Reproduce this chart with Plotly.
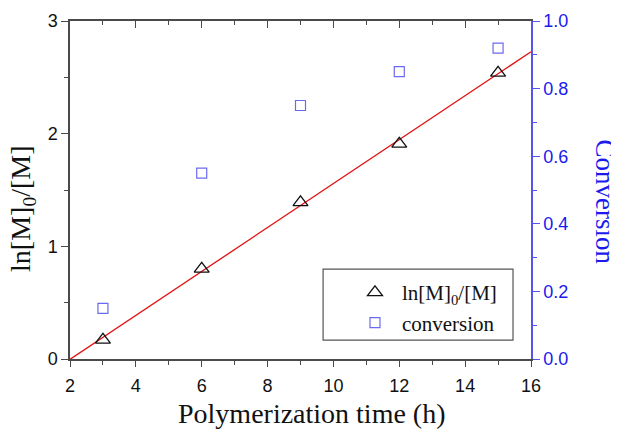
import numpy as np
import plotly.graph_objects as go

time_h = [3, 6, 9, 12, 15]
ln_ratio = [0.17, 0.80, 1.39, 1.91, 2.54]
conversion = [0.15, 0.55, 0.75, 0.85, 0.92]
fit_x = [2, 16]

slope, intercept = np.polyfit(time_h, ln_ratio, 1)
fit_y = [slope * v + intercept for v in fit_x]

AXC = "#4a4a4a"
BLUE = "#1a1aee"
RAXC = "#5555ee"
SERIF = "Liberation Serif, Times New Roman, serif"
SANS = "Liberation Sans, Arial, sans-serif"

fig = go.Figure()
fig.add_trace(go.Scatter(x=fit_x, y=fit_y, mode="lines",
                         line=dict(color="#e41010", width=1.3),
                         showlegend=False, hoverinfo="skip"))
fig.add_trace(go.Scatter(x=time_h, y=ln_ratio, mode="markers",
                         name="ln[M]<sub>0</sub>/[M]",
                         marker=dict(symbol="triangle-up-open", size=13,
                                     color="#111111", line=dict(width=1.3))))
fig.add_trace(go.Scatter(x=time_h, y=conversion, mode="markers",
                         name="conversion", yaxis="y2",
                         marker=dict(symbol="square-open", size=10,
                                     color="#6a6af0", line=dict(width=1.2))))
# empty trace to carry the mirrored top axis
fig.add_trace(go.Scatter(x=[], y=[], xaxis="x2", showlegend=False))

# page body has an 8px margin: shrink figure so plot area lands on reference pixels
fig.update_layout(
    width=611, height=425,
    margin=dict(l=62, r=88, t=13, b=74),
    paper_bgcolor="white", plot_bgcolor="white",
    xaxis=dict(range=[2, 16], dtick=2, tick0=2, showgrid=False, zeroline=False,
               automargin=False,
               showline=True, linecolor=AXC, linewidth=1.5,
               ticks="outside", ticklen=6, tickwidth=1.2, tickcolor=AXC,
               ticklabelstandoff=4,
               minor=dict(dtick=1, ticks="outside", ticklen=4, tickcolor=AXC, tickwidth=1.2),
               tickfont=dict(family=SANS, size=18, color="#111")),
    xaxis2=dict(range=[2, 16], dtick=2, tick0=2, overlaying="x", side="top", anchor="y",
                automargin=False,
                showgrid=False, zeroline=False, showticklabels=False,
                showline=True, linecolor=AXC, linewidth=1.5,
                ticks="inside", ticklen=7, tickwidth=1.2, tickcolor=AXC,
                minor=dict(dtick=1, ticks="inside", ticklen=4, tickcolor=AXC, tickwidth=1.2)),
    yaxis=dict(range=[0, 3], dtick=1, showgrid=False, zeroline=False,
               automargin=False,
               showline=True, linecolor=AXC, linewidth=1.5,
               ticks="outside", ticklen=7, tickwidth=1.2, tickcolor=AXC,
               minor=dict(dtick=0.5, ticks="outside", ticklen=4, tickcolor=AXC, tickwidth=1.2),
               tickfont=dict(family=SANS, size=18, color="#111")),
    yaxis2=dict(range=[0, 1], dtick=0.2, tickformat=".1f", overlaying="y", side="right",
                automargin=False,
                showgrid=False, zeroline=False,
                showline=True, linecolor=RAXC, linewidth=1.5,
                ticks="outside", ticklen=7, tickwidth=1.2, tickcolor=RAXC,
                minor=dict(dtick=0.1, ticks="outside", ticklen=4, tickcolor=RAXC, tickwidth=1.2),
                tickfont=dict(family=SANS, size=18, color=BLUE)),
    legend=dict(x=0.603, y=0.257, xanchor="left", yanchor="top",
                borderwidth=0, bgcolor="rgba(0,0,0,0)", itemwidth=44,
                font=dict(family=SERIF, size=21, color="#111"),
                tracegroupgap=0),
    shapes=[dict(type="rect", xref="paper", yref="paper",
                 x0=0.549, x1=0.961, y0=0.056, y1=0.266,
                 line=dict(color="#555", width=1.2), fillcolor="rgba(0,0,0,0)",
                 layer="above")],
    annotations=[
        dict(text="Polymerization time (h)", x=0.526, y=-0.160, xref="paper", yref="paper",
             xanchor="center", yanchor="middle", showarrow=False,
             font=dict(family=SERIF, size=28, color="#111")),
        dict(text="ln[M]<sub>0</sub>/[M]", x=-0.102, y=0.444, xref="paper", yref="paper",
             xanchor="center", yanchor="middle", textangle=-90, showarrow=False,
             font=dict(family=SERIF, size=28, color="#111")),
        dict(text="Conversion", x=1.161, y=0.465, xref="paper", yref="paper",
             xanchor="center", yanchor="middle", textangle=90, showarrow=False,
             font=dict(family=SERIF, size=27, color=BLUE)),
    ],
)

fig.write_html("out.html")
